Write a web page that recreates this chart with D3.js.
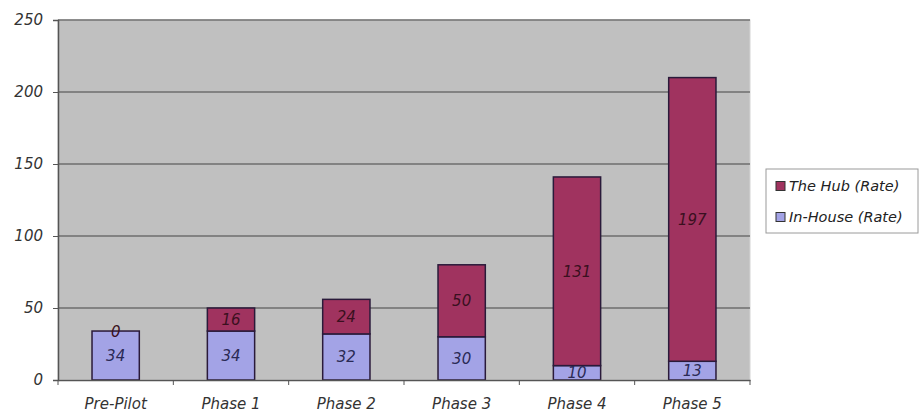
<!DOCTYPE html>
<html>
<head>
<meta charset="utf-8">
<script src="https://cdn.jsdelivr.net/npm/d3@7"></script>
<style>
body { margin: 0; background: #fff; }
text { font-family: "DejaVu Sans", Verdana, sans-serif; font-style: italic; }
</style>
</head>
<body>
<div id="canvas"></div>
<script>
var categories = ["Pre-Pilot", "Phase 1", "Phase 2", "Phase 3", "Phase 4", "Phase 5"]
var inHouse = [34, 34, 32, 30, 10, 13]
var hub = [0, 16, 24, 50, 131, 197]
var seriesNames = ["In-House (Rate)", "The Hub (Rate)"]
var yTicks = [0, 50, 100, 150, 200, 250]

var width = 920
var height = 416
var plotLeft = 58, plotRight = 750, plotTop = 20, plotBottom = 380

var svg = d3.select("#canvas")
    .append("svg")
    .attr("width", width)
    .attr("height", height)

var xScale = d3.scaleBand().domain(categories).range([plotLeft, plotRight]).paddingInner(0.59).paddingOuter(0.295)
var yScale = d3.scaleLinear().domain([0, 250]).range([plotBottom, plotTop])

// plot background
svg.append("rect")
    .attr("x", plotLeft).attr("y", plotTop)
    .attr("width", plotRight - plotLeft).attr("height", plotBottom - plotTop)
    .attr("fill", "#c0c0c0")
    .attr("stroke", "#d4d4d4")

// gridlines
svg.selectAll(".grid")
    .data(yTicks.slice(1))
    .enter()
    .append("line")
    .attr("x1", plotLeft).attr("x2", plotRight)
    .attr("y1", function (d) { return yScale(d) })
    .attr("y2", function (d) { return yScale(d) })
    .attr("stroke", "#6e6e6e")
    .attr("stroke-width", 1.5)

// stacked bars
var stack = categories.map(function (c, i) {
    return [
        { key: "in", y0: 0, y1: inHouse[i], v: inHouse[i], c: c },
        { key: "hub", y0: inHouse[i], y1: inHouse[i] + hub[i], v: hub[i], c: c }
    ]
})
var colors = { "in": "#a3a3e6", "hub": "#a0335f" }
var textColors = { "in": "#2a2a55", "hub": "#3a1020" }

var segs = svg.selectAll(".seg")
    .data(stack.flat())
    .enter()

segs.append("rect")
    .attr("x", function (d) { return xScale(d.c) })
    .attr("width", xScale.bandwidth())
    .attr("y", function (d) { return yScale(d.y1) })
    .attr("height", function (d) { return yScale(d.y0) - yScale(d.y1) })
    .attr("fill", function (d) { return colors[d.key] })
    .attr("stroke", "#2a1a3a")
    .attr("stroke-width", 1.5)

segs.append("text")
    .attr("x", function (d) { return xScale(d.c) + xScale.bandwidth() / 2 })
    .attr("y", function (d) { return yScale((d.y0 + d.y1) / 2) + 5.5 })
    .attr("text-anchor", "middle")
    .attr("font-size", 15)
    .attr("fill", function (d) { return textColors[d.key] })
    .text(function (d) { return d.v })

// y axis
var yAxis = svg.append("g")
    .attr("transform", `translate(${plotLeft},0)`)
    .call(d3.axisLeft(yScale).tickValues(yTicks).tickSize(5).tickPadding(10))
yAxis.select(".domain").attr("stroke", "#555").attr("stroke-width", 1.5)
yAxis.selectAll(".tick line").attr("stroke", "#555")
yAxis.selectAll("text").attr("font-size", 15).attr("fill", "#333")
    .style("font-family", "DejaVu Sans, Verdana, sans-serif").style("font-style", "italic")

// x axis
var xAxis = svg.append("g")
    .attr("transform", `translate(0,${plotBottom})`)
    .call(d3.axisBottom(xScale).tickSize(0).tickPadding(18))
xAxis.select(".domain").attr("stroke", "#555").attr("stroke-width", 1.5)
xAxis.selectAll("text").attr("font-size", 15).attr("fill", "#333")
    .style("font-family", "DejaVu Sans, Verdana, sans-serif").style("font-style", "italic")
xAxis.selectAll(".sep")
    .data(d3.range(0, categories.length + 1))
    .enter()
    .append("line")
    .attr("x1", function (i) { return plotLeft + i * xScale.step() })
    .attr("x2", function (i) { return plotLeft + i * xScale.step() })
    .attr("y1", 0).attr("y2", 5)
    .attr("stroke", "#555")

// legend
var legend = svg.append("g").attr("transform", "translate(766,169)")
legend.append("rect")
    .attr("width", 152).attr("height", 64)
    .attr("fill", "#fff").attr("stroke", "#9a9a9a")
var legendItems = [
    { name: seriesNames[1], key: "hub" },
    { name: seriesNames[0], key: "in" }
]
var li = legend.selectAll(".li")
    .data(legendItems)
    .enter()
    .append("g")
    .attr("transform", function (d, i) { return `translate(10,${17 + i * 31})` })
li.append("rect")
    .attr("x", 0).attr("y", -4.5).attr("width", 9).attr("height", 9)
    .attr("fill", function (d) { return colors[d.key] })
    .attr("stroke", "#333").attr("stroke-width", 1)
li.append("text")
    .attr("x", 13).attr("y", 5)
    .attr("font-size", 14.5)
    .attr("fill", "#222")
    .text(function (d) { return d.name })
</script>
</body>
</html>
